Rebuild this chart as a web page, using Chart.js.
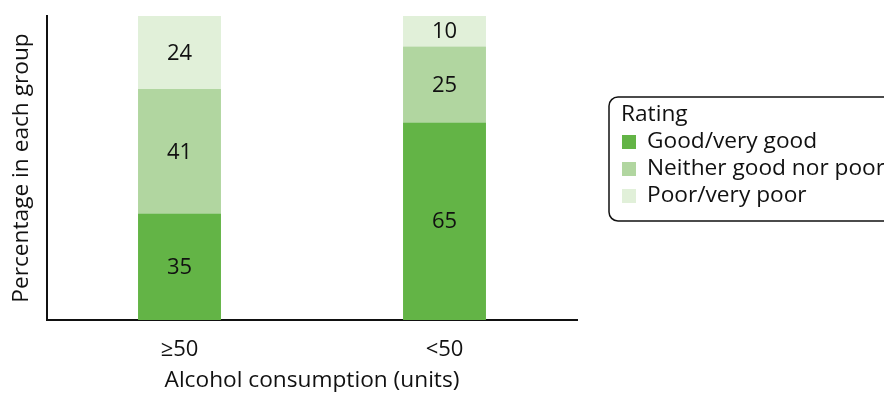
<!DOCTYPE html>
<html>
<head>
<meta charset="utf-8">
<script src="https://cdn.jsdelivr.net/npm/chart.js@4"></script>
<style>
  html, body { margin: 0; padding: 0; background: #ffffff; overflow: hidden; }
  #wrap { width: 884px; height: 394px; position: relative; }
</style>
</head>
<body>
<div id="wrap"><canvas id="chart" width="884" height="394"></canvas></div>
<script>
// Alcohol consumption groups and the share of each self-rated health level
const categories = ['\u226550', '<50'];
const goodVeryGood = [35, 65];
const neitherGoodNorPoor = [41, 25];
const poorVeryPoor = [24, 10];

const seriesNames = ['Good/very good', 'Neither good nor poor', 'Poor/very poor'];
const seriesColors = ['#63b446', '#b1d6a0', '#e1f0d9'];

const FONT = '"Open Sans", "Noto Sans", "DejaVu Sans", sans-serif';
const FONT_SIZE = 22.7;
const TEXT = '#111111';

// Writes each segment's value in the middle of its bar piece
const segmentLabels = {
  id: 'segmentLabels',
  afterDatasetsDraw(chart) {
    const ctx = chart.ctx;
    ctx.save();
    ctx.font = '22px ' + FONT;
    ctx.fillStyle = TEXT;
    ctx.textAlign = 'center';
    ctx.textBaseline = 'middle';
    chart.data.datasets.forEach((ds, di) => {
      const meta = chart.getDatasetMeta(di);
      meta.data.forEach((bar, i) => {
        const p = bar.getProps(['x', 'y', 'base'], true);
        ctx.fillText(String(ds.data[i]), p.x, (p.y + p.base) / 2 + 1);
      });
    });
    ctx.restore();
  }
};

// Boxed legend with a heading, drawn to the right of the plot
const boxedLegend = {
  id: 'boxedLegend',
  afterDraw(chart) {
    const ctx = chart.ctx;
    const x0 = 609, y0 = 97, w = 320, h = 124, r = 9;
    ctx.save();
    ctx.lineWidth = 1.5;
    ctx.strokeStyle = '#111111';
    ctx.beginPath();
    ctx.roundRect(x0, y0, w, h, r);
    ctx.stroke();
    ctx.font = FONT_SIZE + 'px ' + FONT;
    ctx.fillStyle = TEXT;
    ctx.textAlign = 'left';
    ctx.textBaseline = 'middle';
    ctx.fillText('Rating', 621, 115);
    chart.data.datasets.forEach((ds, i) => {
      const cy = 142 + i * 27;
      ctx.fillStyle = ds.backgroundColor;
      ctx.fillRect(622, cy - 7, 14, 14);
      ctx.fillStyle = TEXT;
      ctx.fillText(ds.label, 647, cy);
    });
    ctx.restore();
  }
};

new Chart(document.getElementById('chart'), {
  type: 'bar',
  data: {
    labels: categories,
    datasets: [
      { label: seriesNames[0], data: goodVeryGood, backgroundColor: seriesColors[0] },
      { label: seriesNames[1], data: neitherGoodNorPoor, backgroundColor: seriesColors[1] },
      { label: seriesNames[2], data: poorVeryPoor, backgroundColor: seriesColors[2] }
    ]
  },
  options: {
    responsive: false,
    animation: false,
    devicePixelRatio: 1,
    layout: { padding: { left: 0, right: 307, top: 16, bottom: 0 } },
    datasets: { bar: { categoryPercentage: 1, barPercentage: 0.313, borderWidth: 0 } },
    plugins: { legend: { display: false }, tooltip: { enabled: false } },
    scales: {
      x: {
        stacked: true,
        grid: { display: false, drawTicks: false },
        border: { display: true, color: '#111111', width: 2 },
        ticks: { color: TEXT, font: { family: FONT, size: 22 }, padding: 17 },
        title: {
          display: true, text: 'Alcohol consumption (units)', color: TEXT,
          font: { family: FONT, size: FONT_SIZE }, padding: { top: 4, bottom: 0 }
        },
        afterFit(scale) { scale.height = 74; }
      },
      y: {
        stacked: true,
        min: 0, max: 100,
        grid: { display: false, drawTicks: false },
        border: { display: true, color: '#111111', width: 2 },
        ticks: { display: false },
        title: {
          display: true, text: 'Percentage in each group', color: TEXT,
          font: { family: FONT, size: FONT_SIZE }, padding: { top: 8, bottom: 0 }
        },
        afterFit(scale) { scale.width = 47; }
      }
    }
  },
  plugins: [segmentLabels, boxedLegend]
});
</script>
</body>
</html>
